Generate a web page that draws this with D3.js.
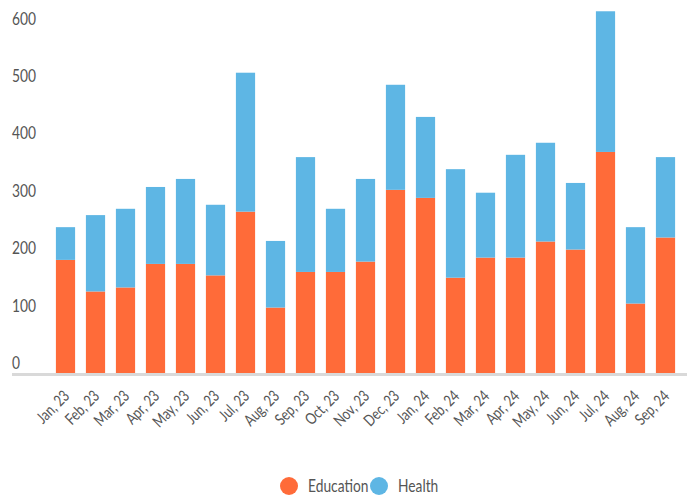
<!DOCTYPE html>
<html>
<head>
<meta charset="utf-8">
<script src="https://cdn.jsdelivr.net/npm/d3@7"></script>
<style>
  html, body { margin: 0; padding: 0; background: #fff; }
  svg { display: block; }
  text { font-family: "Lato", "Open Sans", sans-serif; fill: #555; }
</style>
</head>
<body>
<svg id="chart" width="687" height="495"></svg>
<script>
const months = ["Jan, 23","Feb, 23","Mar, 23","Apr, 23","May, 23","Jun, 23","Jul, 23","Aug, 23","Sep, 23","Oct, 23","Nov, 23","Dec, 23","Jan, 24","Feb, 24","Mar, 24","Apr, 24","May, 24","Jun, 24","Jul, 24","Aug, 24","Sep, 24"];
const education = [197, 142, 149, 190, 190, 170, 281, 114, 176, 176, 194, 319, 305, 166, 201, 201, 229, 215, 385, 121, 236];
const health    = [57, 133, 137, 134, 148, 123, 242, 116, 200, 110, 144, 183, 141, 189, 113, 179, 172, 116, 245, 133, 140];
const yTicks = [0, 100, 200, 300, 400, 500, 600];
const seriesNames = ["Education", "Health"];
const colors = ["#FF6B39", "#5EB6E4"];

const svg = d3.select("#chart");

const x = d3.scaleBand().domain(months).range([50.5, 680.5]).paddingInner(0.36).paddingOuter(0.18);
const y = d3.scaleLinear().domain([0, 600]).range([373, 28.5]);

const rows = months.map((m, i) => ({ month: m, Education: education[i], Health: health[i] }));
const stack = d3.stack().keys(seriesNames)(rows);

// measure helper for condensed look
function measure(str, size) {
  const t = svg.append("text").attr("font-size", size).text(str);
  const w = t.node().getComputedTextLength();
  t.remove();
  return w;
}
const ySize = 17, xSize = 16;
const yScaleX = 24 / measure("600", ySize);
const xScaleX = 41 / measure("Sep, 24", xSize);

// axis line
svg.append("line")
  .attr("x1", 12).attr("x2", 687)
  .attr("y1", 374.5).attr("y2", 374.5)
  .attr("stroke", "#d9d9d9").attr("stroke-width", 3);

// bars
svg.append("g").selectAll("g").data(stack).join("g")
  .attr("fill", (d, i) => colors[i])
  .selectAll("rect").data(d => d).join("rect")
  .attr("x", d => x(d.data.month))
  .attr("width", x.bandwidth())
  .attr("y", d => y(d[1]))
  .attr("height", d => y(d[0]) - y(d[1]));

// y labels
svg.append("g").selectAll("text").data(yTicks).join("text")
  .attr("transform", d => `translate(12,${y(d) - 4}) scale(${yScaleX},1)`)
  .attr("font-size", ySize)
  .text(d => d);

// x labels
svg.append("g").selectAll("text").data(months).join("text")
  .attr("transform", d => `translate(${x(d) + x.bandwidth() / 2 + 5},397) rotate(-45) scale(${xScaleX},1)`)
  .attr("text-anchor", "end")
  .attr("font-size", xSize)
  .text(d => d);

// legend
const legend = svg.append("g");
const legendX = [289, 379];
seriesNames.forEach((name, i) => {
  legend.append("circle").attr("cx", legendX[i]).attr("cy", 486).attr("r", 9).attr("fill", colors[i]);
  legend.append("text")
    .attr("transform", `translate(${legendX[i] + 19},492) scale(${yScaleX},1)`)
    .attr("font-size", ySize).text(name);
});
</script>
</body>
</html>
